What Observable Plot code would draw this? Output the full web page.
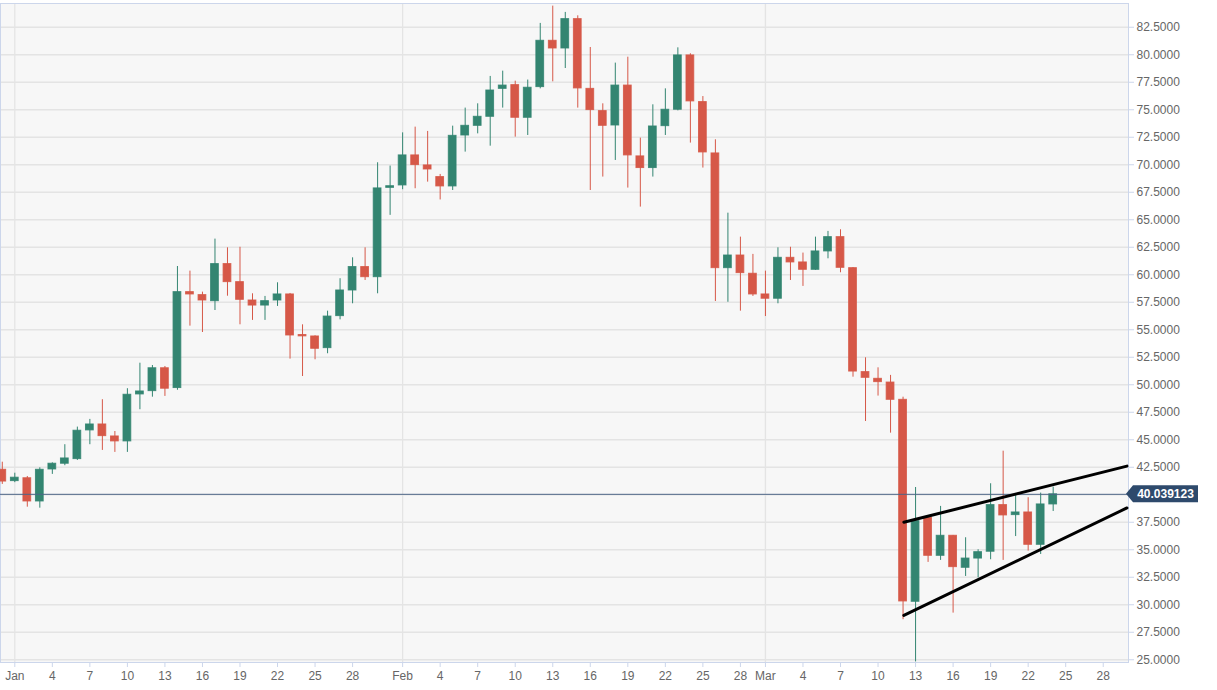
<!DOCTYPE html>
<html><head><meta charset="utf-8">
<script src="https://cdn.jsdelivr.net/npm/d3@7"></script>
<script src="https://cdn.jsdelivr.net/npm/@observablehq/plot@0.6"></script>
<style>html,body{margin:0;padding:0;background:#fff}svg{display:block}</style>
</head><body><div id="chart"></div>
<script>
// ---- data (daily OHLC, first candle 2019-12-31, consecutive days) ----
const firstDay = "2019-12-31";
const opens  = [42.27,41.24,41.5,39.39,42.3,42.82,43.24,45.85,46.39,45.3,44.85,49.12,49.42,51.5,49.7,58.42,58.15,57.6,60.97,59.33,57.66,57.2,57.66,58.21,54.52,54.39,53.33,56.24,58.57,60.7,59.78,67.9,68.12,70.85,69.94,68.88,68.03,72.66,73.54,74.36,76.9,77.24,74.27,77.06,81.27,80.57,83.24,76.9,74.88,73.57,77.2,70.76,69.7,73.51,75.0,79.94,75.7,71.03,60.6,61.75,60.09,58.21,57.82,61.54,61.12,60.45,62.12,63.42,60.6,51.15,50.54,50.2,48.63,30.27,37.9,34.45,36.27,33.36,34.2,34.82,39.06,38.15,38.39,35.45,39.12];
const highs  = [42.96,41.96,41.66,42.45,42.9,44.55,46.15,46.85,48.64,45.75,49.64,51.96,51.75,51.66,60.75,60.33,58.42,63.24,62.45,62.5,58.27,58.03,59.27,58.3,55.45,54.45,56.69,59.64,61.54,62.45,70.18,69.88,72.9,73.42,73.03,69.12,73.51,75.15,75.54,78.03,78.51,77.6,77.7,82.85,84.42,83.85,83.54,80.66,75.54,79.24,79.78,72.42,75.45,76.9,80.63,80.09,76.2,72.27,65.6,63.42,61.85,60.33,62.45,62.5,61.97,63.42,63.94,64.09,60.65,52.45,51.54,50.85,48.87,40.66,37.95,38.94,36.3,36.09,35.0,41.0,43.96,39.94,39.73,40.15,40.69];
const lows   = [40.94,41.1,38.87,38.78,41.85,42.64,43.12,44.55,44.03,43.85,43.85,47.73,48.87,48.94,49.5,55.33,54.75,56.75,58.05,55.45,55.85,55.85,57.12,52.33,50.75,52.27,52.82,55.9,57.36,59.48,58.27,65.4,67.73,67.82,68.42,66.8,67.66,71.15,72.81,71.69,75.15,72.51,72.66,76.9,77.54,78.75,75.15,67.66,68.88,70.39,67.88,66.15,68.88,72.66,74.9,71.97,69.7,57.57,57.5,56.69,58.03,56.2,57.36,59.48,58.94,60.4,61.45,60.18,50.69,46.66,48.97,45.6,28.64,24.8,33.85,34.03,29.24,32.57,32.45,34.09,34.03,36.2,34.88,34.57,38.48];
const closes = [41.2,41.55,39.39,42.27,42.82,43.3,45.82,46.39,45.33,44.85,49.09,49.39,51.5,49.64,58.42,58.21,57.66,60.97,59.33,57.72,57.2,57.6,58.21,54.48,54.4,53.27,56.2,58.57,60.7,59.78,67.85,68.05,70.85,69.97,69.57,68.03,72.63,73.54,74.36,76.75,77.2,74.27,77.0,81.27,80.57,83.24,76.94,74.97,73.54,77.2,70.85,69.7,73.48,75.0,79.94,75.76,71.12,60.6,61.75,60.15,58.21,57.82,61.54,61.12,60.45,62.12,63.42,60.63,51.2,50.63,50.24,48.63,30.3,37.6,34.45,36.27,33.42,34.2,34.78,39.06,38.12,38.39,35.45,39.12,40.04];
const lastPrice = 40.039123;
const upperTrend = [{date: "2020-03-12T01:30Z", value: 37.5}, {date: "2020-03-29T21:30Z", value: 42.6}];
const lowerTrend = [{date: "2020-03-12T01:30Z", value: 29.03}, {date: "2020-03-29T21:30Z", value: 38.8}];
const yTicks = [25,27.5,30,32.5,35,37.5,40,42.5,45,47.5,50,52.5,55,57.5,60,62.5,65,67.5,70,72.5,75,77.5,80,82.5];
const tickMonths = ["Jan","Feb","Mar"];
const tickDays = [1,4,7,10,13,16,19,22,25,28];
const monthStarts = ["2020-01-01","2020-02-01","2020-03-01"];

// ---- build table ----
const DAY = 864e5;
const start = new Date(firstDay + "T00:00Z");
const candles = opens.map((o, i) => ({
  date: new Date(+start + i * DAY),
  open: o, high: highs[i], low: lows[i], close: closes[i],
  up: closes[i] >= o
}));
const xTicks = [];
tickMonths.forEach((m, mi) => tickDays.forEach(d => xTicks.push(new Date(Date.UTC(2020, mi, d)))));
const fmtX = d => d.getUTCDate() === 1 ? tickMonths[d.getUTCMonth()] : String(d.getUTCDate());
const GREEN = "#338571", RED = "#d65848";
const col = d => d.up ? GREEN : RED;
const jan1 = Date.UTC(2020, 0, 1);
// the price label hides the 40.0000 tick label, as in the reference
const yLabelTicks = yTicks.filter(v => Math.abs(v - lastPrice) > 1);

const chart = Plot.plot({
  width: 1217, height: 690,
  marginLeft: 0, marginRight: 89, marginTop: 3, marginBottom: 28,
  style: {fontFamily: "'Liberation Sans', Arial, sans-serif", fontSize: "12px", background: "#fff"},
  x: {type: "utc", domain: [new Date(jan1 - 1.143 * DAY), new Date(jan1 + 89.02 * DAY)]},
  y: {domain: [24.75, 84.66]},
  marks: [
    Plot.frame({fill: "#f7f7f7", stroke: null}),
    Plot.ruleY(yTicks, {stroke: "#e4e4e4", strokeWidth: 1.3}),
    Plot.ruleX(monthStarts.map(s => new Date(s + "T00:00Z")), {stroke: "#e4e4e4", strokeWidth: 1.3}),
    Plot.frame({stroke: "#ccd6eb"}),
    Plot.ruleX(candles, {x: "date", y1: "low", y2: "high", stroke: col, strokeWidth: 1}),
    Plot.rect(candles, {
      x1: d => new Date(+d.date - 0.31 * DAY), x2: d => new Date(+d.date + 0.31 * DAY),
      y1: "open", y2: "close", fill: col, stroke: col, strokeWidth: 1, strokeOpacity: 0.85
    }),
    Plot.ruleY([lastPrice], {stroke: "#4c6586", strokeWidth: 1}),
    Plot.line(upperTrend, {x: d => new Date(d.date), y: "value", stroke: "#000", strokeWidth: 3}),
    Plot.line(lowerTrend, {x: d => new Date(d.date), y: "value", stroke: "#000", strokeWidth: 3}),
    Plot.axisX({ticks: xTicks, tickFormat: fmtX, tickSize: 5, tickPadding: 4, stroke: "#ccd6eb", fill: "#666"}),
    Plot.axisY({anchor: "right", ticks: yLabelTicks, tickFormat: d => d.toFixed(4), tickSize: 5, tickPadding: 3, stroke: "#ccd6eb", fill: "#666"})
  ]
});
document.getElementById("chart").append(chart);

// price label on the right axis, positioned through the chart's own scales
const svg = d3.select(chart);
const yp = chart.scale("y").apply(lastPrice);
const xr = chart.scale("x").range[1];
const g = svg.append("g");
g.append("path")
  .attr("d", `M${xr - 2},${yp} L${xr + 5},${yp - 8.5} H${xr + 70} V${yp + 8.5} H${xr + 5} Z`)
  .attr("fill", "#2e4a6c");
g.append("text")
  .attr("x", xr + 37.5).attr("y", yp).attr("dy", "0.35em")
  .attr("text-anchor", "middle").attr("fill", "#fff")
  .attr("font-weight", "bold").attr("font-size", 12)
  .attr("font-family", "'Liberation Sans', Arial, sans-serif")
  .text(String(lastPrice));
</script>
</body></html>
